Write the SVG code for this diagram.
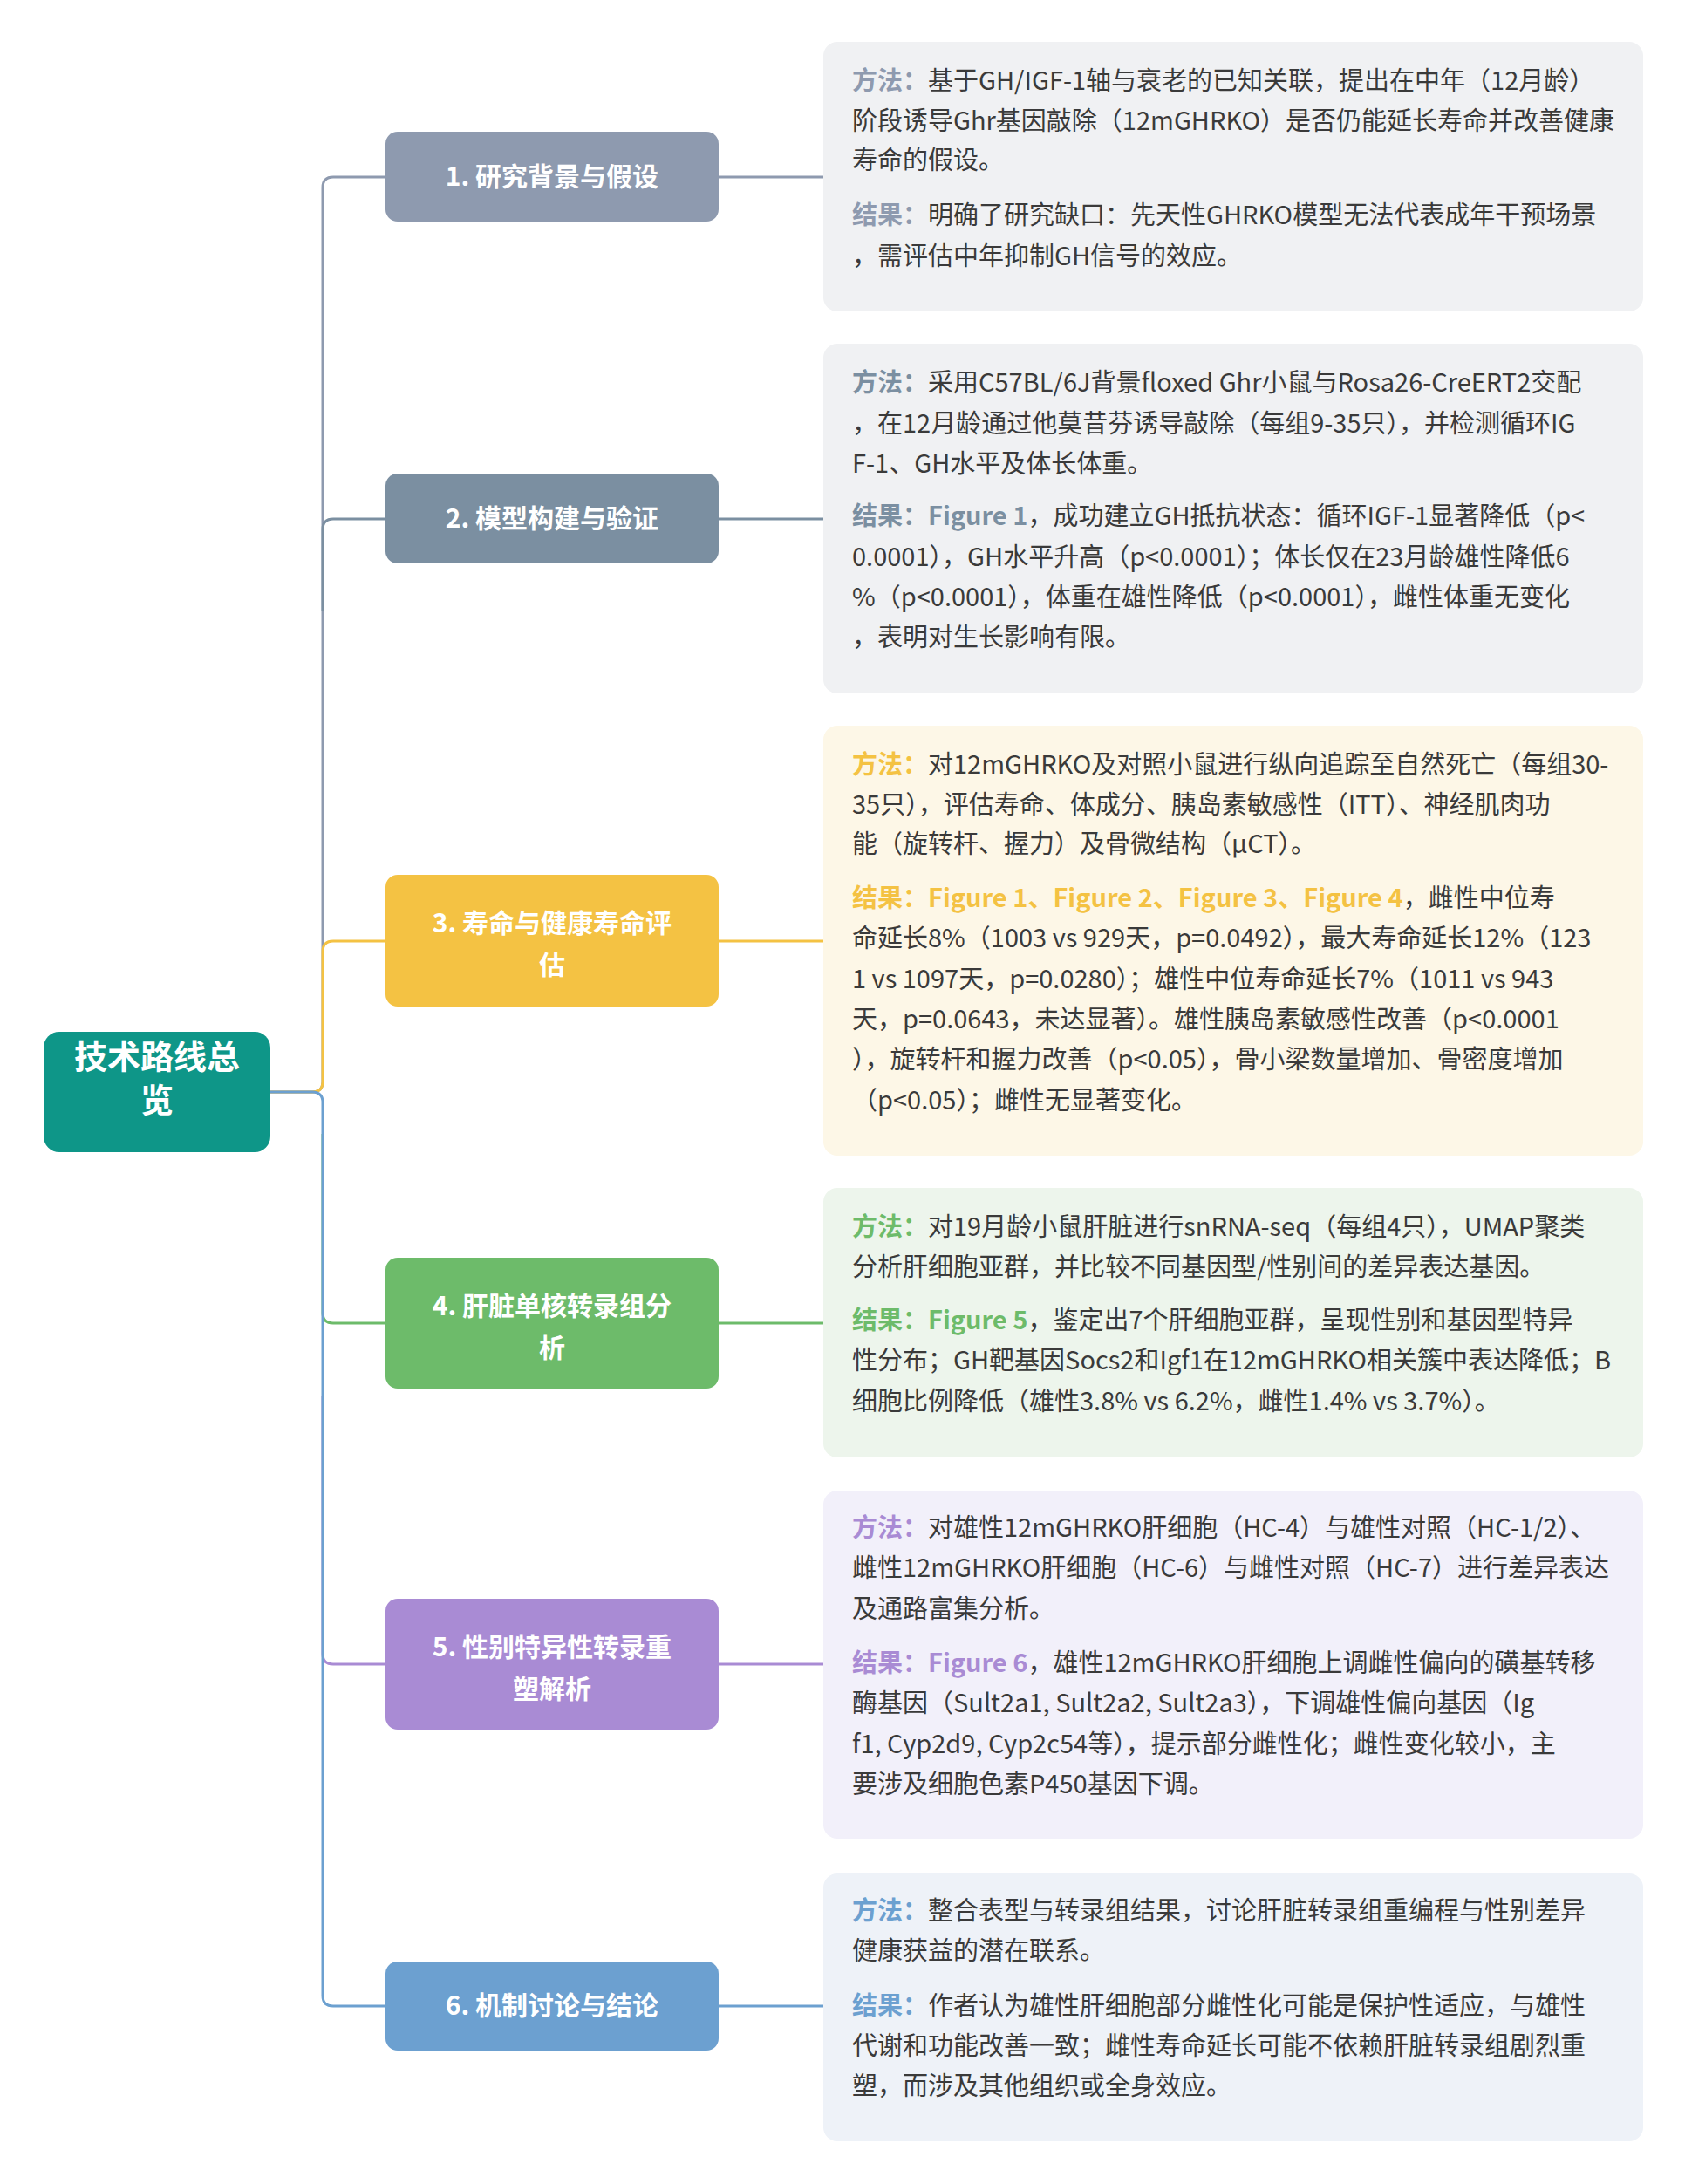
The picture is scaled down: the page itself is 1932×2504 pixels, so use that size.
<svg xmlns="http://www.w3.org/2000/svg" width="1932" height="2504" viewBox="0 0 1932 2504">
<style>
text{font-family:"Noto Sans CJK SC","Noto Sans",sans-serif}
.t{font-size:29px;fill:#3a3a3a}
.nl{font-size:30px;font-weight:bold;fill:#fff;text-anchor:middle}
.c{fill:none;stroke-width:3}
.l{font-weight:bold}
</style>
<rect width="1932" height="2504" fill="#fff"/>
<g id="connectors">
<path class="c" stroke="#8E9AAF" d="M310 1252 H358 Q370 1252 370 1240 V215 Q370 203 382 203 H442 M824 203 H956"/>
<path class="c" stroke="#7B8FA1" d="M370 700 V607 Q370 595 382 595 H442 M824 595 H956"/>
<path class="c" stroke="#F4C243" d="M310 1252 H358 Q370 1252 370 1240 V1091 Q370 1079 382 1079 H442 M824 1079 H956"/>
<path class="c" stroke="#6DBB6A" d="M370 1300 V1505 Q370 1517 382 1517 H442 M824 1517 H956"/>
<path class="c" stroke="#A98BD4" d="M370 1600 V1896 Q370 1908 382 1908 H442 M824 1908 H956"/>
<path class="c" stroke="#6CA0D0" d="M310 1252 H358 Q370 1252 370 1264 V2288 Q370 2300 382 2300 H442 M824 2300 H956"/>
</g>
<g id="root"><rect x="50" y="1183" width="260" height="138" rx="18" fill="#0E9688"/>
<text class="nl" x="180" y="1225" style="font-size:38px">技术路线总</text><text class="nl" x="180" y="1275" style="font-size:38px">览</text></g>
<g id="n1"><rect x="442" y="151" width="382" height="103" rx="14" fill="#8E9AAF"/><text class="nl" x="633" y="213">1. 研究背景与假设</text></g>
<g id="n2"><rect x="442" y="543" width="382" height="103" rx="14" fill="#7B8FA1"/><text class="nl" x="633" y="605">2. 模型构建与验证</text></g>
<g id="n3"><rect x="442" y="1003" width="382" height="151" rx="14" fill="#F4C243"/><text class="nl" x="633" y="1069">3. 寿命与健康寿命评</text><text class="nl" x="633" y="1117">估</text></g>
<g id="n4"><rect x="442" y="1442" width="382" height="150" rx="14" fill="#6DBB6A"/><text class="nl" x="633" y="1508">4. 肝脏单核转录组分</text><text class="nl" x="633" y="1556">析</text></g>
<g id="n5"><rect x="442" y="1833" width="382" height="150" rx="14" fill="#A98BD4"/><text class="nl" x="633" y="1899">5. 性别特异性转录重</text><text class="nl" x="633" y="1947">塑解析</text></g>
<g id="n6"><rect x="442" y="2249" width="382" height="102" rx="14" fill="#6CA0D0"/><text class="nl" x="633" y="2310">6. 机制讨论与结论</text></g>
<g id="card1"><rect x="944" y="48" width="940" height="309" rx="16" fill="#F0F1F3"/>
<text class="t" x="977" y="103"><tspan class="l" fill="#8E9AAF">方法：</tspan>基于GH/IGF-1轴与衰老的已知关联，提出在中年（12月龄）</text>
<text class="t" x="977" y="149">阶段诱导Ghr基因敲除（12mGHRKO）是否仍能延长寿命并改善健康</text>
<text class="t" x="977" y="194">寿命的假设。</text>
<text class="t" x="977" y="257"><tspan class="l" fill="#8E9AAF">结果：</tspan>明确了研究缺口：先天性GHRKO模型无法代表成年干预场景</text>
<text class="t" x="977" y="304">，需评估中年抑制GH信号的效应。</text></g>
<g id="card2"><rect x="944" y="394" width="940" height="401" rx="16" fill="#F0F1F3"/>
<text class="t" x="977" y="449"><tspan class="l" fill="#7B8FA1">方法：</tspan>采用C57BL/6J背景floxed Ghr小鼠与Rosa26-CreERT2交配</text>
<text class="t" x="977" y="496">，在12月龄通过他莫昔芬诱导敲除（每组9-35只），并检测循环IG</text>
<text class="t" x="977" y="542">F-1、GH水平及体长体重。</text>
<text class="t" x="977" y="602"><tspan class="l" fill="#7B8FA1">结果：Figure 1</tspan>，成功建立GH抵抗状态：循环IGF-1显著降低（p&lt;</text>
<text class="t" x="977" y="649">0.0001），GH水平升高（p&lt;0.0001）；体长仅在23月龄雄性降低6</text>
<text class="t" x="977" y="695">%（p&lt;0.0001），体重在雄性降低（p&lt;0.0001），雌性体重无变化</text>
<text class="t" x="977" y="741">，表明对生长影响有限。</text></g>
<g id="card3"><rect x="944" y="832" width="940" height="493" rx="16" fill="#FDF7E7"/>
<text class="t" x="977" y="887"><tspan class="l" fill="#F4C243">方法：</tspan>对12mGHRKO及对照小鼠进行纵向追踪至自然死亡（每组30-</text>
<text class="t" x="977" y="933">35只），评估寿命、体成分、胰岛素敏感性（ITT）、神经肌肉功</text>
<text class="t" x="977" y="978">能（旋转杆、握力）及骨微结构（μCT）。</text>
<text class="t" x="977" y="1040"><tspan class="l" fill="#F4C243">结果：Figure 1、Figure 2、Figure 3、Figure 4</tspan>，雌性中位寿</text>
<text class="t" x="977" y="1086">命延长8%（1003 vs 929天，p=0.0492），最大寿命延长12%（123</text>
<text class="t" x="977" y="1133">1 vs 1097天，p=0.0280）；雄性中位寿命延长7%（1011 vs 943</text>
<text class="t" x="977" y="1179">天，p=0.0643，未达显著）。雄性胰岛素敏感性改善（p&lt;0.0001</text>
<text class="t" x="977" y="1225">），旋转杆和握力改善（p&lt;0.05），骨小梁数量增加、骨密度增加</text>
<text class="t" x="977" y="1272">（p&lt;0.05）；雌性无显著变化。</text></g>
<g id="card4"><rect x="944" y="1362" width="940" height="309" rx="16" fill="#EDF5EC"/>
<text class="t" x="977" y="1417"><tspan class="l" fill="#6DBB6A">方法：</tspan>对19月龄小鼠肝脏进行snRNA-seq（每组4只），UMAP聚类</text>
<text class="t" x="977" y="1463">分析肝细胞亚群，并比较不同基因型/性别间的差异表达基因。</text>
<text class="t" x="977" y="1524"><tspan class="l" fill="#6DBB6A">结果：Figure 5</tspan>，鉴定出7个肝细胞亚群，呈现性别和基因型特异</text>
<text class="t" x="977" y="1570">性分布；GH靶基因Socs2和Igf1在12mGHRKO相关簇中表达降低；B</text>
<text class="t" x="977" y="1617">细胞比例降低（雄性3.8% vs 6.2%，雌性1.4% vs 3.7%）。</text></g>
<g id="card5"><rect x="944" y="1709" width="940" height="399" rx="16" fill="#F2F0FA"/>
<text class="t" x="977" y="1762"><tspan class="l" fill="#A98BD4">方法：</tspan>对雄性12mGHRKO肝细胞（HC-4）与雄性对照（HC-1/2）、</text>
<text class="t" x="977" y="1808">雌性12mGHRKO肝细胞（HC-6）与雌性对照（HC-7）进行差异表达</text>
<text class="t" x="977" y="1855">及通路富集分析。</text>
<text class="t" x="977" y="1917"><tspan class="l" fill="#A98BD4">结果：Figure 6</tspan>，雄性12mGHRKO肝细胞上调雌性偏向的磺基转移</text>
<text class="t" x="977" y="1963">酶基因（Sult2a1, Sult2a2, Sult2a3），下调雄性偏向基因（Ig</text>
<text class="t" x="977" y="2010">f1, Cyp2d9, Cyp2c54等），提示部分雌性化；雌性变化较小，主</text>
<text class="t" x="977" y="2056">要涉及细胞色素P450基因下调。</text></g>
<g id="card6"><rect x="944" y="2148" width="940" height="307" rx="16" fill="#EEF2F8"/>
<text class="t" x="977" y="2201"><tspan class="l" fill="#6CA0D0">方法：</tspan>整合表型与转录组结果，讨论肝脏转录组重编程与性别差异</text>
<text class="t" x="977" y="2247">健康获益的潜在联系。</text>
<text class="t" x="977" y="2310"><tspan class="l" fill="#6CA0D0">结果：</tspan>作者认为雄性肝细胞部分雌性化可能是保护性适应，与雄性</text>
<text class="t" x="977" y="2356">代谢和功能改善一致；雌性寿命延长可能不依赖肝脏转录组剧烈重</text>
<text class="t" x="977" y="2402">塑，而涉及其他组织或全身效应。</text></g>
</svg>
